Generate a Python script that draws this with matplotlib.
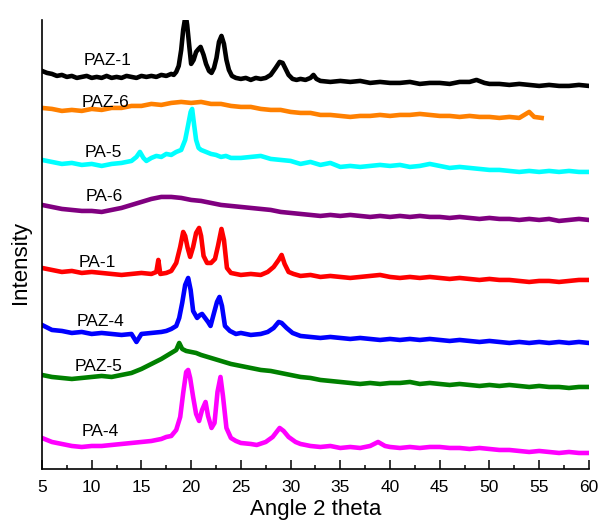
import matplotlib
matplotlib.use("Agg")
from matplotlib import pyplot as plt
from matplotlib.ticker import MultipleLocator

plt.rcParams["font.family"] = ["Liberation Sans", "DejaVu Sans"]

# XRD patterns, stacked top to bottom; intensity in a.u. above each baseline
names = ["PAZ-1", "PAZ-6", "PA-5", "PA-6", "PA-1", "PAZ-4", "PAZ-5", "PA-4"]
colors = ["#000000", "#ff8000", "#00ffff", "#800080",
          "#ff0000", "#0000ff", "#008000", "#ff00ff"]
offsets = [383, 351, 297, 249, 189, 126, 82, 16]

paz1_x = [5, 5.5, 6, 6.5, 7, 7.5, 8, 8.5, 9, 9.5, 10, 10.5, 11, 11.5, 12, 12.5,
          13, 13.5, 14, 14.5, 15, 15.5, 16, 16.5, 17, 17.5, 18, 18.25, 18.5,
          18.75, 19.0, 19.2, 19.45, 19.6, 19.8, 20.0, 20.25, 20.5, 20.75, 20.95,
          21.25, 21.5, 21.8, 22.05, 22.3, 22.55, 22.8, 23.05, 23.3, 23.55, 23.8,
          24.1, 24.5, 25, 25.5, 26, 26.5, 27, 27.5, 28, 28.5, 28.9, 29.2, 29.5,
          29.8, 30.2, 30.6, 31, 31.5, 32, 32.3, 32.6, 33, 34, 35, 36, 37, 38, 39,
          40, 41, 42, 43, 44, 45, 46, 47, 48, 48.7, 49.5, 50, 51, 52, 53, 54, 55,
          56, 57, 58, 59, 60]
paz1_y = [15, 13, 12, 10, 11, 9, 10, 8, 9, 10, 8, 9, 8, 10, 8, 9,
          8, 10, 9, 8, 10, 9, 10, 9, 11, 10, 12, 11, 14,
          20, 36, 56, 71, 61, 41, 22, 26, 34, 37, 39,
          31, 22, 15, 13, 18, 28, 44, 50, 42, 26, 16,
          10, 8, 7, 8, 6, 8, 7, 8, 11, 18, 24, 23, 17,
          11, 7, 6, 7, 6, 8, 11, 7, 5, 4, 5, 4, 5, 3, 4,
          3, 3, 4, 2, 3, 3, 2, 4, 4, 6, 3, 2, 2, 1, 2, 1, 0,
          1, 0, 0, 1, 0]

paz6_x = [5, 6, 7, 8, 9, 10, 11, 12, 13, 14, 15, 16, 17, 18, 19, 20, 21, 22, 23,
          24, 25, 26, 27, 28, 29, 30, 31, 32, 33, 34, 35, 36, 37, 38, 39, 40, 41,
          42, 43, 44, 45, 46, 47, 48, 49, 50, 51, 52, 53, 54, 54.5, 55.25]
paz6_y = [10, 9, 7, 8, 7, 9, 8, 10, 10, 12, 12, 14, 13, 15, 16, 15, 16, 14, 14,
          12, 11, 11, 9, 8, 8, 6, 5, 5, 3, 3, 2, 1, 2, 2, 3, 2, 3,
          3, 4, 3, 2, 2, 1, 2, 1, 1, 0, 1, 0, 6, 1, 0]

pa5_x = [5, 6, 7, 8, 9, 10, 11, 12, 13, 14, 14.5, 14.85, 15.2, 15.5, 16, 16.5,
         17, 17.5, 18, 18.5, 19, 19.4, 19.7, 19.95, 20.1, 20.3, 20.5, 20.75, 21,
         21.5, 22, 22.5, 23, 23.5, 24, 25, 26, 27, 28, 29, 30, 31, 32, 33, 34,
         35, 36, 37, 38, 39, 40, 41, 42, 43, 44, 45, 46, 47, 48, 49, 50, 51, 52,
         53, 54, 55, 56, 57, 58, 59, 60]
pa5_y = [12, 10, 8, 9, 7, 8, 6, 8, 9, 11, 15, 20, 14, 11, 14, 16,
         15, 18, 17, 20, 22, 32, 47, 60, 63, 47, 32, 24, 22,
         20, 18, 17, 15, 16, 14, 14, 15, 16, 13, 12, 11, 8, 10, 7, 9,
         5, 6, 5, 6, 7, 6, 7, 5, 6, 8, 6, 4, 5, 4, 3, 2, 2, 1,
         0, 1, 0, 1, 0, 1, 0, 0]

pa6_x = [5, 6, 7, 8, 9, 10, 11, 12, 13, 14, 15, 16, 17, 18, 19, 20, 21, 22, 23,
         24, 25, 26, 27, 28, 29, 30, 31, 32, 33, 34, 35, 36, 37, 38, 39, 40, 41,
         42, 43, 44, 45, 46, 47, 48, 49, 50, 51, 52, 53, 54, 55, 56, 57, 58, 59,
         60]
pa6_y = [15, 13, 11, 10, 9, 9, 8, 10, 12, 15, 18, 21, 23, 23, 22, 20, 19, 17, 15,
         14, 13, 12, 11, 10, 8, 7, 6, 5, 4, 5, 4, 5, 4, 3, 4, 3, 4,
         3, 4, 3, 3, 2, 3, 2, 1, 2, 1, 1, 0, 1, 0, 1, -1, 0, 1,
         0]

pa1_x = [5, 6, 7, 8, 9, 10, 11, 12, 13, 14, 15, 16, 16.5, 16.7, 16.9, 17.5, 18,
         18.5, 18.9, 19.2, 19.4, 19.65, 19.9, 20.2, 20.5, 20.8, 21.0, 21.25, 21.6,
         22.0, 22.4, 22.7, 23.05, 23.3, 23.6, 24.0, 24.5, 25, 26, 27, 27.7, 28.3,
         28.8, 29.1, 29.4, 29.8, 30.3, 31, 32, 33, 34, 35, 36, 37, 38, 39, 40,
         41, 42, 43, 44, 45, 46, 47, 48, 49, 50, 51, 52, 53, 54, 55, 56, 57, 58,
         59, 60]
pa1_y = [12, 10, 8, 9, 7, 8, 7, 6, 5, 6, 7, 6, 8, 20, 6, 7, 9,
         17, 33, 48, 44, 32, 23, 33, 47, 52, 44, 24, 17,
         17, 21, 34, 51, 40, 12, 7, 6, 5, 6, 5, 8, 13,
         20, 25, 16, 8, 6, 4, 5, 3, 4, 3, 2, 3, 4, 5, 3,
         2, 3, 2, 3, 2, 1, 2, 1, 0, 1, 0, 0, -1, -2, -1, -1, -2, -1,
         0, 0]

paz4_x = [5, 6, 7, 8, 9, 10, 11, 12, 13, 14, 14.5, 15, 16, 17, 17.5, 18, 18.5,
          18.8, 19.1, 19.4, 19.7, 19.95, 20.2, 20.6, 20.9, 21.1, 21.4, 21.7,
          21.95, 22.3, 22.6, 22.85, 23.1, 23.4, 23.9, 24.5, 25, 26, 27, 27.7,
          28.3, 28.8, 29.1, 29.6, 30.2, 31, 32, 33, 34, 35, 36, 37, 38, 39, 40,
          41, 42, 43, 44, 45, 46, 47, 48, 49, 50, 51, 52, 53, 54, 55, 56, 57, 58,
          59, 60]
paz4_y = [18, 13, 12, 10, 11, 9, 10, 9, 8, 9, 1, 9, 10, 11, 12, 14, 17,
          25, 40, 58, 65, 53, 32, 25, 28, 29, 25, 21,
          17, 30, 41, 46, 37, 17, 12, 9, 10, 8, 9, 11,
          15, 21, 20, 15, 10, 7, 6, 5, 6, 5, 4, 5, 4, 3, 4,
          3, 4, 3, 4, 3, 2, 3, 2, 1, 2, 1, 0, 1, 0, 1, 0, 1, 0,
          1, 0]

paz5_x = [5, 6, 7, 8, 9, 10, 11, 12, 13, 14, 15, 16, 17, 17.5, 18, 18.5, 18.8,
          19.1, 19.5, 20, 20.5, 21, 22, 23, 24, 25, 26, 27, 28, 29, 30, 31, 32,
          33, 34, 35, 36, 37, 38, 39, 40, 41, 42, 43, 44, 45, 46, 47, 48, 49, 50,
          51, 52, 53, 54, 55, 56, 57, 58, 59, 60]
paz5_y = [12, 10, 9, 8, 9, 10, 11, 10, 12, 14, 18, 23, 28, 31, 34, 37, 44,
          38, 36, 35, 34, 32, 29, 26, 23, 21, 19, 17, 16, 14, 12, 10, 9,
          7, 6, 5, 4, 3, 4, 3, 4, 4, 5, 3, 4, 3, 2, 3, 2, 1, 2,
          1, 2, 1, 0, 1, 0, 0, -1, 0, 0]

pa4_x = [5, 6, 7, 8, 9, 10, 11, 12, 13, 14, 15, 16, 17, 17.5, 18, 18.5, 18.9,
         19.2, 19.5, 19.7, 19.9, 20.2, 20.5, 20.8, 21.1, 21.45, 21.7, 22.05,
         22.35, 22.65, 22.95, 23.2, 23.55, 24, 24.5, 25, 26, 26.6, 27.5, 28.2,
         28.9, 29.3, 29.8, 30.5, 31, 32, 33, 34, 35, 36, 37, 38, 38.8, 39.5, 40,
         41, 42, 43, 44, 45, 46, 47, 48, 49, 50, 51, 52, 53, 54, 55, 56, 57, 58,
         59, 60]
pa4_y = [15, 11, 9, 7, 6, 7, 7, 8, 9, 10, 11, 12, 14, 16, 17, 23, 36,
         60, 81, 83, 75, 56, 39, 32, 43, 51, 37, 25,
         30, 61, 76, 57, 25, 15, 12, 10, 9, 8, 11, 16,
         25, 22, 16, 11, 9, 7, 6, 7, 5, 6, 5, 7, 11, 7, 6,
         5, 6, 5, 6, 6, 5, 5, 4, 5, 4, 3, 3, 2, 1, 2, 1, 0, 1,
         0, 0]

two_theta = [paz1_x, paz6_x, pa5_x, pa6_x, pa1_x, paz4_x, paz5_x, pa4_x]
intensity = [paz1_y, paz6_y, pa5_y, pa6_y, pa1_y, paz4_y, paz5_y, pa4_y]

# where each sample name sits (2theta, stacked intensity)
label_pos = [(11.6, 408), (11.4, 366), (11.2, 316), (11.3, 272),
             (10.6, 206), (10.9, 147), (10.7, 102), (10.9, 37)]


def plot_patterns():
    fig = plt.figure(figsize=(5.99, 5.24), dpi=100)
    ax = fig.add_axes([0.0701, 0.105, 0.913, 0.857])

    for x, y, off, c in zip(two_theta, intensity, offsets, colors):
        ax.plot(x, [v + off for v in y], color=c, lw=3.3, solid_joinstyle="round")

    for name, (lx, ly) in zip(names, label_pos):
        ax.text(lx, ly, name, fontsize=12.5, ha="center", va="center")

    ax.set_xlim(5, 60)
    ax.set_ylim(0, 449)
    ax.xaxis.set_major_locator(MultipleLocator(5))
    ax.xaxis.set_minor_locator(MultipleLocator(2.5))
    ax.set_yticks([])
    ax.tick_params(axis="x", which="major", direction="in", length=6.5,
                   width=1.1, labelsize=12.5, pad=8)
    ax.tick_params(axis="x", which="minor", direction="in", length=3.2, width=1.1)
    for side in ("top", "right"):
        ax.spines[side].set_visible(False)
    for side in ("left", "bottom"):
        ax.spines[side].set_linewidth(1.2)

    ax.set_xlabel("Angle 2 theta", fontsize=16, labelpad=3)
    ax.set_ylabel("Intensity", fontsize=16)
    ax.yaxis.set_label_coords(-0.02, 0.46)
    fig.savefig("out.png", dpi=100)


if __name__ == "__main__":
    plot_patterns()
